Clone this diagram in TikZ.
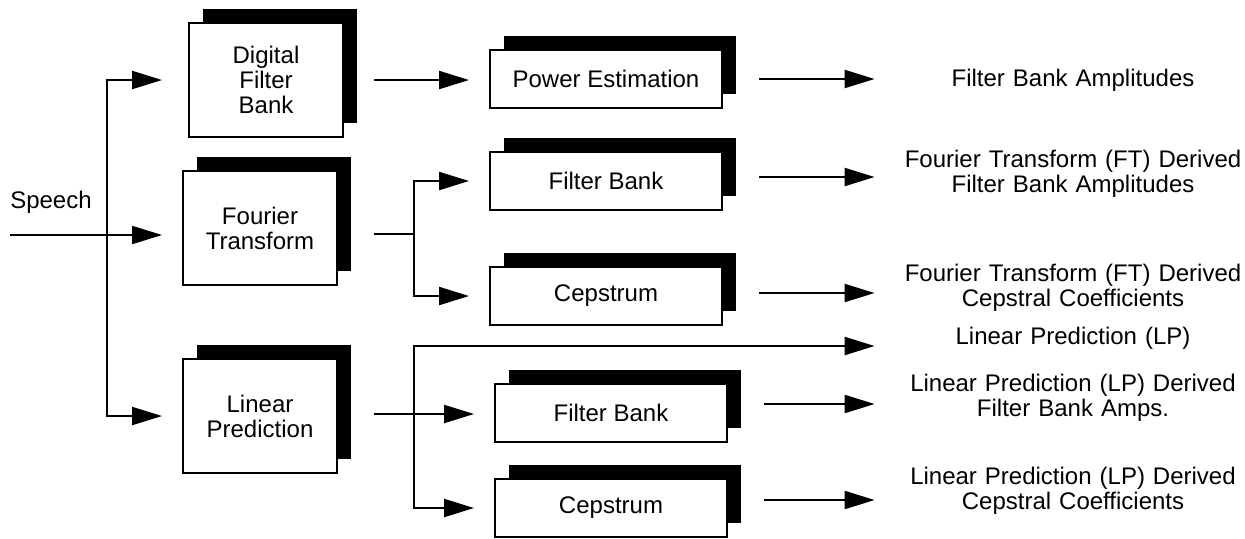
\documentclass[tikz,border=0pt]{standalone}
\usepackage{fontspec}
\setmainfont{Liberation Sans}
\usetikzlibrary{arrows.meta,positioning,shadows}

\begin{document}
\begin{tikzpicture}[x=0.5pt,y=-0.5pt,
  every node/.style={font=\fontsize{12}{12.5}\selectfont},
  blk/.style={draw,line width=1pt,fill=white,align=center,inner sep=0pt,
    general shadow={fill=black,shadow xshift=7pt,shadow yshift=7pt}},
  big/.style={blk,minimum width=77pt,minimum height=57pt},
  wide/.style={blk,minimum width=116pt,minimum height=29pt},
  outtxt/.style={align=center,text width=170pt,inner sep=0pt},
  line/.style={line width=1.1pt},
  arr/.style={line,-{Triangle[length=15pt,width=9pt]}},
  toblk/.style={arr,shorten >=10pt},
  toout/.style={arr,shorten <=18pt,shorten >=14pt}
]
\useasboundingbox (0,0) rectangle (1245,538);

% Analysis front ends
\node[big] (dfb) at (266,80) {Digital\\Filter\\Bank};
\node[big] (ft) at (260,228) {Fourier\\Transform};
\node[big] (lp) at (260,416) {Linear\\Prediction};

% Second stage
\node[wide] (pe) at (606,79) {Power Estimation};
\node[wide] (fbft) at (606,181) {Filter Bank};
\node[wide] (cepft) at (606,296) {Cepstrum};
\node[wide] (fblp) at (611,413) {Filter Bank};
\node[wide] (ceplp) at (611,508) {Cepstrum};

% Feature outputs
\node[outtxt] (fba) at (1073,80) {Filter Bank Amplitudes};
\node[outtxt] (ftfb) at (1073,174) {Fourier Transform (FT) Derived\\Filter Bank Amplitudes};
\node[outtxt] (ftcc) at (1073,288) {Fourier Transform (FT) Derived\\Cepstral Coefficients};
\node[outtxt] (lpc) at (1073,338) {Linear Prediction (LP)};
\node[outtxt] (lpfb) at (1073,398) {Linear Prediction (LP) Derived\\Filter Bank Amps.};
\node[outtxt] (lpcc) at (1073,491) {Linear Prediction (LP) Derived\\Cepstral Coefficients};

% Speech input
\node (speech) at (51,202) {Speech};
\coordinate (in) at (10,235);
\coordinate (split) at (107,235);
\coordinate (ftsplit) at (414,234);
\coordinate (lpsplit) at (414,414);
\coordinate (lpknee) at (414,346);

\draw[toblk] (in) -- (in -| ft.west);
\draw[toblk,shorten >=13pt] (split) |- (dfb.west);
\draw[toblk] (split) |- (lp.west);

\draw[toblk,shorten <=15pt] (dfb.east) -- (dfb.east -| pe.west);

\draw[line,shorten <=18pt] (ft.east |- ftsplit) -- (ftsplit);
\draw[toblk] (ftsplit) |- (fbft.west);
\draw[toblk] (ftsplit) |- (cepft.west);

\draw[line,shorten <=18pt] (lp.east |- lpsplit) -- (lpsplit);
\draw[toblk] (lpsplit) -- (lpsplit -| fblp.west);
\draw[toblk] (lpsplit) |- (ceplp.west);
\draw[arr,shorten >=14pt] (lpsplit) -- (lpknee) -- (lpknee -| lpc.west);

\draw[toout] (pe.east) -- (pe.east -| fba.west);
\draw[toout] ([yshift=2pt]fbft.east) -- ([yshift=2pt]fbft.east -| ftfb.west);
\draw[toout] ([yshift=1.5pt]cepft.east) -- ([yshift=1.5pt]cepft.east -| ftcc.west);
\draw[toout] ([yshift=4.5pt]fblp.east) -- ([yshift=4.5pt]fblp.east -| lpfb.west);
\draw[toout] ([yshift=4pt]ceplp.east) -- ([yshift=4pt]ceplp.east -| lpcc.west);
\end{tikzpicture}
\end{document}
